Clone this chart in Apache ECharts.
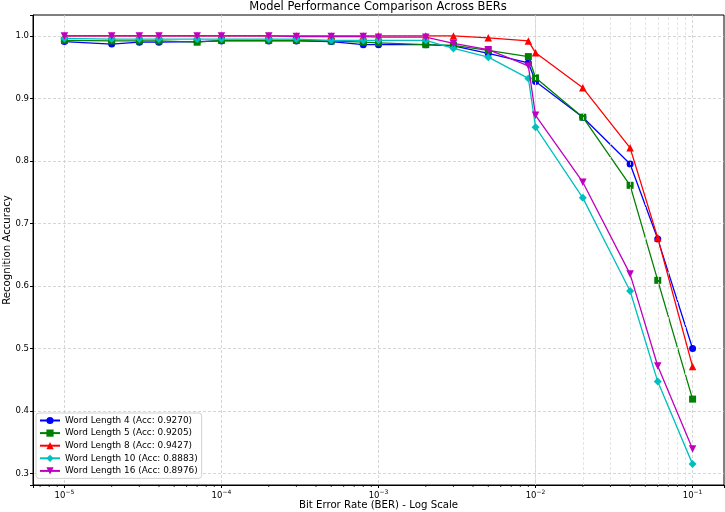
<!DOCTYPE html>
<html><head><meta charset="utf-8">
<script src="https://cdn.jsdelivr.net/npm/echarts@6/dist/echarts.min.js"></script>
<style>html,body{margin:0;padding:0;background:#fff}#c{width:725px;height:512px}</style>
</head><body><div id="c"></div>
<script>
// ---- data ----
const berValues = [1e-5, 2e-5, 3e-5, 4e-5, 7e-5, 1e-4, 2e-4, 3e-4, 5e-4, 8e-4, 1e-3, 2e-3, 3e-3, 5e-3, 9e-3, 1e-2, 2e-2, 4e-2, 6e-2, 1e-1];
const accWL4  = [0.991, 0.987, 0.990, 0.990, 0.991, 0.992, 0.992, 0.992, 0.991, 0.986, 0.986, 0.986, 0.984, 0.972, 0.957, 0.927, 0.870, 0.795, 0.675, 0.500];
const accWL5  = [0.993, 0.992, 0.992, 0.992, 0.990, 0.993, 0.993, 0.993, 0.992, 0.990, 0.989, 0.986, 0.985, 0.977, 0.967, 0.933, 0.870, 0.761, 0.609, 0.419];
const accWL8  = [1.000, 1.000, 1.000, 1.000, 1.000, 1.000, 1.000, 1.000, 1.000, 1.000, 1.000, 1.000, 1.000, 0.997, 0.992, 0.973, 0.917, 0.821, 0.677, 0.471];
const accWL10 = [0.996, 0.995, 0.995, 0.995, 0.995, 0.995, 0.995, 0.995, 0.993, 0.993, 0.993, 0.993, 0.980, 0.966, 0.932, 0.854, 0.741, 0.592, 0.447, 0.315];
const accWL16 = [1.000, 1.000, 1.000, 1.000, 1.000, 1.000, 1.000, 0.999, 0.999, 0.999, 0.998, 0.998, 0.988, 0.978, 0.952, 0.873, 0.766, 0.619, 0.472, 0.339];
const seriesNames = [
  'Word Length 4 (Acc: 0.9270)',
  'Word Length 5 (Acc: 0.9205)',
  'Word Length 8 (Acc: 0.9427)',
  'Word Length 10 (Acc: 0.8883)',
  'Word Length 16 (Acc: 0.8976)'
];
const chartTitle = 'Model Performance Comparison Across BERs';
const xAxisTitle = 'Bit Error Rate (BER) - Log Scale';
const yAxisTitle = 'Recognition Accuracy';

// ---- styling ----
const seriesValues = [accWL4, accWL5, accWL8, accWL10, accWL16];
const colors = ['#0000ff', '#008000', '#ff0000', '#00bfbf', '#bf00bf'];
const symbols = ['circle', 'rect', 'triangle', 'diamond', 'triangle'];
const rotations = [0, 0, 0, 0, 180];
const symbolSizes = [7, 7, 7.5, 8, 7.5];
const FONT = 'DejaVu Sans';
const xMin = Math.pow(10, -5.2), xMax = Math.pow(10, -0.8);
const yMin = 0.2816, yMax = 1.0335;

// minor tick positions of the log axis (2..9 x 10^n)
const minorTicks = [];
for (let e = -6; e <= -1; e++) for (let k = 2; k <= 9; k++) {
  const v = k * Math.pow(10, e);
  if (v > xMin && v < xMax) minorTicks.push(v);
}

const chart = echarts.init(document.getElementById('c'), null, {renderer: 'canvas'});
const series = seriesValues.map((vals, i) => ({
  name: seriesNames[i],
  type: 'line',
  data: berValues.map((x, j) => [x, vals[j]]),
  symbol: symbols[i],
  symbolRotate: rotations[i],
  symbolSize: symbolSizes[i],
  showAllSymbol: true,
  lineStyle: {color: colors[i], width: 1.3},
  itemStyle: {color: colors[i]},
  z: 3 + i,
  animation: false
}));
series.push({
  name: 'minor',
  type: 'custom',
  silent: true,
  clip: false,
  z: 1,
  data: minorTicks.map(v => [v, yMin]),
  renderItem: (params, api) => {
    const p = api.coord([api.value(0), yMin]);
    return {type: 'line', shape: {x1: p[0], y1: p[1], x2: p[0], y2: p[1] + 2}, style: {stroke: '#000', lineWidth: 0.8}};
  },
  markLine: {
    silent: true,
    symbol: ['none', 'none'],
    label: {show: false},
    lineStyle: {color: '#dedede', type: [3, 2], width: 0.8},
    data: minorTicks.map(v => ({xAxis: v})),
    animation: false
  },
  animation: false
});

chart.setOption({
  animation: false,
  backgroundColor: '#fff',
  title: {
    text: chartTitle, left: 378, top: 1, padding: 0, textAlign: 'center',
    textStyle: {fontFamily: FONT, fontSize: 11.5, fontWeight: 'normal', color: '#000'}
  },
  grid: {left: 33, right: 1, top: 15, bottom: 27, outerBoundsMode: 'none', containLabel: false,
         show: true, borderColor: '#000', borderWidth: 1, backgroundColor: 'transparent'},
  legend: {
    data: seriesNames,
    orient: 'vertical', left: 36, top: 413,
    itemWidth: 20, itemHeight: 9, itemGap: 3.6,
    padding: [3, 4, 3, 3],
    backgroundColor: 'rgba(255,255,255,0.85)',
    borderColor: '#d0d0d0', borderWidth: 1, borderRadius: 3,
    textStyle: {fontFamily: FONT, fontSize: 8.9, color: '#000'}
  },
  xAxis: {
    type: 'log', logBase: 10, min: xMin, max: xMax,
    name: xAxisTitle, nameLocation: 'middle', nameGap: 15, nameMoveOverlap: false,
    nameTextStyle: {fontFamily: FONT, fontSize: 10.2, color: '#000'},
    axisLine: {show: true, lineStyle: {color: '#000', width: 1}},
    axisTick: {show: true, length: 3, lineStyle: {color: '#000'}},
    axisLabel: {
      margin: 4, color: '#000', fontFamily: FONT,
      formatter: v => {
        const e = Math.log10(v);
        const r = Math.round(e);
        if (Math.abs(e - r) > 1e-6) return '';
        return '{b|10}{s|' + (r < 0 ? '\u2212' : '') + Math.abs(r) + '}';
      },
      rich: {
        b: {fontFamily: FONT, fontSize: 8.5, color: '#000'},
        s: {fontFamily: FONT, fontSize: 6, color: '#000', padding: [0, 0, 7, 0]}
      }
    },
    splitLine: {show: true, showMinLine: false, showMaxLine: false,
                lineStyle: {color: '#cccccc', type: [3, 2], width: 0.8}}
  },
  yAxis: {
    type: 'value', min: yMin, max: yMax, splitNumber: 7,
    name: yAxisTitle, nameLocation: 'middle', nameGap: 21, nameMoveOverlap: false,
    nameTextStyle: {fontFamily: FONT, fontSize: 10.2, color: '#000'},
    axisLine: {show: true, lineStyle: {color: '#000', width: 1}},
    axisTick: {show: true, length: 3, lineStyle: {color: '#000'}},
    axisLabel: {
      margin: 4, color: '#000', fontFamily: FONT, fontSize: 8.5,
      formatter: v => {
        const r = Math.round(v * 10) / 10;
        if (Math.abs(v - r) > 1e-6) return '';
        return r.toFixed(1);
      }
    },
    splitLine: {show: true, showMinLine: false, showMaxLine: false,
                lineStyle: {color: '#cccccc', type: [3, 2], width: 0.8}}
  },
  series: series
});
</script>
</body></html>
